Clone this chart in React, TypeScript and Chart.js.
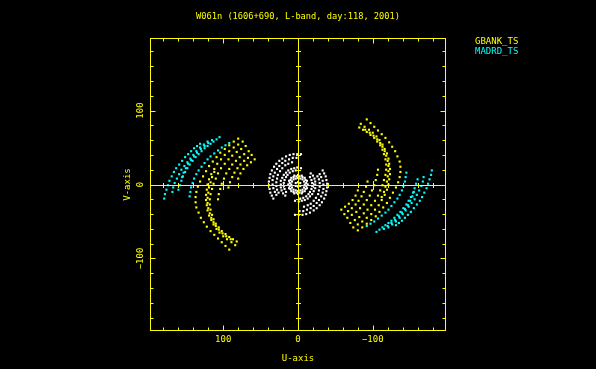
import React, { useEffect, useRef } from "react";
import { Chart, registerables } from "chart.js";

Chart.register(...registerables);

const chartTitle = "W061n (1606+690, L-band, day:118, 2001)";
const uAxisTitle = "U-axis";
const vAxisTitle = "V-axis";
const legendNames = ["GBANK_TS", "MADRD_TS"];
const uTickLabels = [100, 0, -100];
const vTickLabels = [100, 0, -100];
const axisLimit = 198;

const YELLOW = "#ffff00";
const CYAN = "#00ffff";
const WHITE = "#ffffff";

// GBANK_TS baselines: (u, v) and their conjugate (-u, -v) tracks
const gb1 = [[80,62],[86,58],[92,53],[98,48],[104,43],[109,37],[114,31],[119,25],[123,18],[127,11],[131,4],[134,-3],[136,-10],[137,-17],[137,-24],[136,-31],[133,-38],[130,-45],[126,-51],[122,-57],[117,-63],[112,-68],[107,-73],[102,-78],[97,-83],[92,-88]];
const gb1c = [[-80,-62],[-86,-58],[-92,-53],[-98,-48],[-104,-43],[-109,-37],[-114,-31],[-119,-25],[-123,-18],[-127,-11],[-131,-4],[-134,3],[-136,10],[-137,17],[-137,24],[-136,31],[-133,38],[-130,45],[-126,51],[-122,57],[-117,63],[-112,68],[-107,73],[-102,78],[-97,83],[-92,88]];
const gb2 = [[74,58],[80,54],[86,50],[92,45],[98,40],[103,34],[108,28],[112,21],[116,14],[119,7],[121,0],[122,-7],[123,-14],[123,-21],[122,-28],[121,-35],[119,-42],[116,-48],[113,-54],[109,-60],[105,-65],[100,-70],[95,-74],[89,-78],[84,-82]];
const gb2c = [[-74,-58],[-80,-54],[-86,-50],[-92,-45],[-98,-40],[-103,-34],[-108,-28],[-112,-21],[-116,-14],[-119,-7],[-121,0],[-122,7],[-123,14],[-123,21],[-122,28],[-121,35],[-119,42],[-116,48],[-113,54],[-109,60],[-105,65],[-100,70],[-95,74],[-89,78],[-84,82]];
const gb3 = [[70,52],[76,48],[82,44],[88,39],[93,34],[98,28],[103,22],[107,15],[110,8],[113,1],[115,-6],[117,-13],[118,-20],[118,-27],[117,-34],[115,-41],[113,-47],[110,-53],[106,-58],[102,-63],[97,-67],[92,-71],[87,-74],[82,-77]];
const gb3c = [[-70,-52],[-76,-48],[-82,-44],[-88,-39],[-93,-34],[-98,-28],[-103,-22],[-107,-15],[-110,-8],[-113,-1],[-115,6],[-117,13],[-118,20],[-118,27],[-117,34],[-115,41],[-113,47],[-110,53],[-106,58],[-102,63],[-97,67],[-92,71],[-87,74],[-82,77]];
const gb4 = [[112,17],[115,10],[117,3],[119,-4],[120,-11],[121,-18],[121,-25],[120,-32],[118,-39],[116,-45],[113,-51],[110,-56],[106,-61],[101,-66],[96,-70],[90,-74]];
const gb4c = [[-112,-17],[-115,-10],[-117,-3],[-119,4],[-120,11],[-121,18],[-121,25],[-120,32],[-118,39],[-116,45],[-113,51],[-110,56],[-106,61],[-101,66],[-96,70],[-90,74]];
const gb5 = [[66,45],[72,41],[78,37],[83,32],[88,27],[92,21],[96,15],[99,8],[102,1],[104,-6],[106,-13],[107,-20]];
const gb5c = [[-66,-45],[-72,-41],[-78,-37],[-83,-32],[-88,-27],[-92,-21],[-96,-15],[-99,-8],[-102,-1],[-104,6],[-106,13],[-107,20]];
const gb6 = [[62,40],[67,36],[72,32],[77,27],[81,22],[85,16],[88,10],[91,3],[93,-4]];
const gb6c = [[-62,-40],[-67,-36],[-72,-32],[-77,-27],[-81,-22],[-85,-16],[-88,-10],[-91,-3],[-93,4]];
const gb7 = [[58,34],[63,30],[68,26],[73,21],[77,15],[80,8]];
const gb7c = [[-58,-34],[-63,-30],[-68,-26],[-73,-21],[-77,-15],[-80,-8]];

// MADRD_TS baselines
const md1 = [[105,64],[109,61],[113,58],[117,55],[121,52],[125,49],[129,45],[133,41],[137,37],[141,32],[145,27],[148,22],[151,17],[154,11],[156,5],[158,-1],[160,-7]];
const md1c = [[-105,-64],[-109,-61],[-113,-58],[-117,-55],[-121,-52],[-125,-49],[-129,-45],[-133,-41],[-137,-37],[-141,-32],[-145,-27],[-148,-22],[-151,-17],[-154,-11],[-156,-5],[-158,1],[-160,7]];
const md2 = [[131,55],[135,52],[139,49],[143,45],[147,41],[151,37],[155,32],[159,27],[163,22],[166,17],[169,11],[172,5],[174,-1],[176,-7],[178,-13],[179,-19]];
const md2c = [[-131,-55],[-135,-52],[-139,-49],[-143,-45],[-147,-41],[-151,-37],[-155,-32],[-159,-27],[-163,-22],[-166,-17],[-169,-11],[-172,-5],[-174,1],[-176,7],[-178,13],[-179,19]];
const md3 = [[92,56],[97,53],[102,50],[107,46],[112,42],[117,38],[121,34],[125,29],[129,24],[133,19],[136,14],[139,8],[141,2],[143,-4],[144,-10],[145,-16]];
const md3c = [[-92,-56],[-97,-53],[-102,-50],[-107,-46],[-112,-42],[-117,-38],[-121,-34],[-125,-29],[-129,-24],[-133,-19],[-136,-14],[-139,-8],[-141,-2],[-143,4],[-144,10],[-145,16]];
const md4 = [[115,60],[120,56],[125,52],[130,48],[135,43],[139,38],[143,33],[147,28],[150,22],[153,16],[155,10]];
const md4c = [[-115,-60],[-120,-56],[-125,-52],[-130,-48],[-135,-43],[-139,-38],[-143,-33],[-147,-28],[-150,-22],[-153,-16],[-155,-10]];
const md5 = [[121,58],[126,54],[131,50],[136,45],[140,40],[144,35],[148,30],[152,25],[156,20],[159,14],[162,8],[165,2],[167,-4],[168,-10]];
const md5c = [[-121,-58],[-126,-54],[-131,-50],[-136,-45],[-140,-40],[-144,-35],[-148,-30],[-152,-25],[-156,-20],[-159,-14],[-162,-8],[-165,-2],[-167,4],[-168,10]];

// other (short) baselines near the centre
const wOuter = [[-4,41],[1,41],[6,41],[11,40],[16,38],[21,35],[25,32],[29,28],[32,24],[35,19],[37,14],[38,9],[39,4],[39,-1],[38,-6],[37,-11],[35,-15],[33,-19]];
const wOuterC = [[4,-41],[-1,-41],[-6,-41],[-11,-40],[-16,-38],[-21,-35],[-25,-32],[-29,-28],[-32,-24],[-35,-19],[-37,-14],[-38,-9],[-39,-4],[-39,1],[-38,6],[-37,11],[-35,15],[-33,19]];
const wOuter2 = [[2,36],[7,36],[12,34],[17,32],[21,29],[25,25],[28,21],[31,16],[33,11],[34,6],[34,0],[33,-5],[31,-10],[29,-14]];
const wOuter2C = [[-2,-36],[-7,-36],[-12,-34],[-17,-32],[-21,-29],[-25,-25],[-28,-21],[-31,-16],[-33,-11],[-34,-6],[-34,0],[-33,5],[-31,10],[-29,14]];
const wMid = [[8,30],[13,28],[17,26],[21,22],[24,18],[27,13],[28,8],[29,3],[29,-2],[28,-7],[26,-11]];
const wMidC = [[-8,-30],[-13,-28],[-17,-26],[-21,-22],[-24,-18],[-27,-13],[-28,-8],[-29,-3],[-29,2],[-28,7],[-26,11]];
const wInner = [[-4,22],[1,23],[5,22],[9,21],[13,19],[16,16],[19,13],[21,9],[23,5],[23,0],[23,-4],[22,-8],[20,-12],[17,-15]];
const wInnerC = [[4,-22],[-1,-23],[-5,-22],[-9,-21],[-13,-19],[-16,-16],[-19,-13],[-21,-9],[-23,-5],[-23,0],[-23,4],[-22,8],[-20,12],[-17,15]];
const wInner2 = [[3,19],[7,18],[11,16],[14,13],[16,10],[18,6],[19,2],[19,-2],[18,-6],[16,-10]];
const wInner2C = [[-3,-19],[-7,-18],[-11,-16],[-14,-13],[-16,-10],[-18,-6],[-19,-2],[-19,2],[-18,6],[-16,10]];
const wRing13 = [[13,0],[12,5],[9,9],[5,12],[0,13],[-5,12],[-9,9],[-12,5],[-13,0],[-12,-5],[-9,-9],[-5,-12],[0,-13],[5,-12],[9,-9],[12,-5]];
const wRing11 = [[11,2],[10,6],[6,10],[2,11],[-2,11],[-6,10],[-10,6],[-11,2],[-11,-2],[-10,-6],[-6,-10],[-2,-11],[2,-11],[6,-10],[10,-6],[11,-2]];
const wRing9 = [[9,0],[8,4],[6,7],[3,8],[0,9],[-3,8],[-6,7],[-8,4],[-9,0],[-8,-4],[-6,-7],[-3,-8],[0,-9],[3,-8],[6,-7],[8,-4]];
const wCore = [[3,2],[-3,2],[3,-2],[-3,-2],[0,3],[0,-3]];

const toXY = (pts: number[][]) => pts.map(([x, y]) => ({ x, y }));

const gbankAll = [gb1, gb1c, gb2, gb2c, gb3, gb3c, gb4, gb4c, gb5, gb5c, gb6, gb6c, gb7, gb7c].flat();
const madrdAll = [md1, md1c, md2, md2c, md3, md3c, md4, md4c, md5, md5c].flat();
const otherAll = [wOuter, wOuterC, wOuter2, wOuter2C, wMid, wMidC, wInner, wInnerC, wInner2, wInner2C, wRing13, wRing11, wRing9, wCore].flat();

const FONT = "9px 'DejaVu Sans Mono', 'Liberation Mono', monospace";
const fmt = (v: number) => (v < 0 ? "\u2212" + Math.abs(v) : String(v));

const framePlugin = {
  id: "pgplotFrame",
  beforeDraw(chart: any) {
    const { ctx, width, height } = chart;
    ctx.save();
    ctx.fillStyle = "#000000";
    ctx.fillRect(0, 0, width, height);
    ctx.restore();
  },
  afterDatasetsDraw(chart: any) {
    const { ctx, chartArea: a, scales } = chart;
    const xs = scales.x;
    const ys = scales.y;
    ctx.save();
    ctx.strokeStyle = YELLOW;
    ctx.lineWidth = 1;
    const L = a.left + 0.5, R = a.right - 0.5, T = a.top + 0.5, B = a.bottom - 0.5;
    ctx.strokeRect(L, T, R - L, B - T);
    const x0 = Math.round(xs.getPixelForValue(0)) + 0.5;
    const y0 = Math.round(ys.getPixelForValue(0)) + 0.5;
    ctx.beginPath();
    ctx.moveTo(x0, T); ctx.lineTo(x0, B);
    ctx.moveTo(L, y0); ctx.lineTo(R, y0);
    for (let v = -180; v <= 180; v += 20) {
      const major = v % 100 === 0;
      const px = Math.round(xs.getPixelForValue(v)) + 0.5;
      const py = Math.round(ys.getPixelForValue(v)) + 0.5;
      const len = major ? 5 : 3;
      ctx.moveTo(px, B); ctx.lineTo(px, B - len);
      ctx.moveTo(px, T); ctx.lineTo(px, T + len);
      ctx.moveTo(L, py); ctx.lineTo(L + len, py);
      ctx.moveTo(R, py); ctx.lineTo(R - len, py);
      const c = major ? 4.5 : 2.5;
      ctx.moveTo(px, y0 - c); ctx.lineTo(px, y0 + c);
      ctx.moveTo(x0 - c, py); ctx.lineTo(x0 + c, py);
    }
    ctx.stroke();

    ctx.fillStyle = YELLOW;
    ctx.font = FONT;
    ctx.textAlign = "center";
    ctx.textBaseline = "middle";
    uTickLabels.forEach((v) => {
      ctx.fillText(fmt(v), xs.getPixelForValue(v), a.bottom + 9);
    });
    vTickLabels.forEach((v) => {
      ctx.save();
      ctx.translate(a.left - 9, ys.getPixelForValue(v));
      ctx.rotate(-Math.PI / 2);
      ctx.fillText(fmt(v), 0, 0);
      ctx.restore();
    });
    ctx.fillText(uAxisTitle, (a.left + a.right) / 2, a.bottom + 27.5);
    ctx.save();
    ctx.translate(a.left - 22, (a.top + a.bottom) / 2);
    ctx.rotate(-Math.PI / 2);
    ctx.fillText(vAxisTitle, 0, 0);
    ctx.restore();

    ctx.font = "8.7px 'DejaVu Sans Mono', 'Liberation Mono', monospace";
    ctx.fillText(chartTitle, (a.left + a.right) / 2, 17);

    ctx.font = FONT;
    ctx.textAlign = "left";
    ctx.fillStyle = YELLOW;
    ctx.fillText(legendNames[0], 475, 42);
    ctx.fillStyle = CYAN;
    ctx.fillText(legendNames[1], 475, 52);
    ctx.restore();
  },
};

export default function App() {
  const canvasRef = useRef<HTMLCanvasElement | null>(null);

  useEffect(() => {
    const canvas = canvasRef.current;
    if (!canvas) return;
    const chart = new Chart(canvas, {
      type: "scatter",
      data: {
        datasets: [
          {
            label: "other",
            data: toXY(otherAll),
            backgroundColor: WHITE,
            borderWidth: 0,
            pointStyle: "rect",
            pointRadius: 1.5,
          },
          {
            label: legendNames[0],
            data: toXY(gbankAll),
            backgroundColor: YELLOW,
            borderWidth: 0,
            pointStyle: "rect",
            pointRadius: 1.5,
          },
          {
            label: legendNames[1],
            data: toXY(madrdAll),
            backgroundColor: CYAN,
            borderWidth: 0,
            pointStyle: "rect",
            pointRadius: 1.5,
          },
        ],
      },
      options: {
        animation: false,
        responsive: false,
        devicePixelRatio: 1,
        layout: { padding: { left: 150, right: 150, top: 38, bottom: 38 } },
        plugins: { legend: { display: false }, tooltip: { enabled: false }, title: { display: false } },
        scales: {
          x: { type: "linear", min: -axisLimit, max: axisLimit, reverse: true, display: false },
          y: { type: "linear", min: -axisLimit, max: axisLimit, display: false },
        },
        events: [],
      },
      plugins: [framePlugin],
    });
    return () => chart.destroy();
  }, []);

  return (
    <div style={{ position: "fixed", left: 0, top: 0, width: 596, height: 369, background: "#000" }}>
      <canvas ref={canvasRef} width={596} height={369} style={{ display: "block" }} />
    </div>
  );
}
